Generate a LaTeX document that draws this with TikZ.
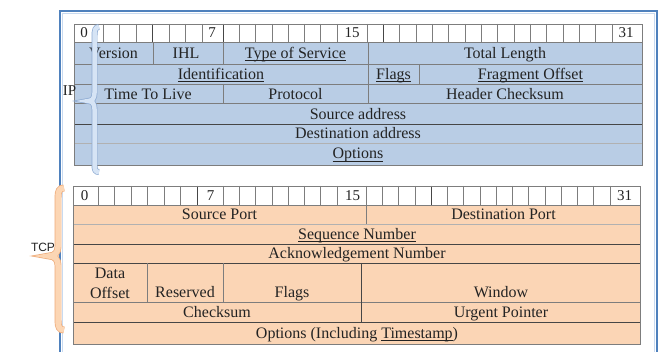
\documentclass[tikz,border=0pt]{standalone}
\usepackage{fontspec}
\setmainfont{Liberation Serif}
\newfontfamily\sansf{Liberation Sans}
\newcommand{\myul}[1]{\setbox0\hbox{#1}\rlap{\rule[-2.3pt]{\wd0}{0.75pt}}\box0}
\definecolor{ipfill}{RGB}{185,205,229}
\definecolor{tcpfill}{RGB}{251,213,181}
\definecolor{frameblue}{RGB}{79,129,189}
\definecolor{framelight}{RGB}{200,218,240}
\definecolor{gridline}{RGB}{125,125,125}
\definecolor{darkline}{RGB}{70,70,70}
\definecolor{txt}{RGB}{35,35,35}
\definecolor{ipbrfill}{RGB}{214,228,245}
\definecolor{ipbredge}{RGB}{140,170,210}
\definecolor{tcpbrfill}{RGB}{252,214,180}
\definecolor{tcpbredge}{RGB}{238,170,120}
\begin{document}
\begin{tikzpicture}[x=1pt,y=-1pt,
  fld/.style={anchor=base, inner sep=0pt, font=\fontsize{16}{20}\selectfont, text=txt},
  bitnum/.style={anchor=base, inner sep=0pt, font=\fontsize{15}{18}\selectfont, text=txt},
  thingrid/.style={draw=gridline, line width=0.6pt},
  darkgrid/.style={draw=darkline, line width=0.9pt},
  lightgrid/.style={draw=gridline!60, line width=0.5pt},
  ipbrace/.style={draw=ipbredge, double=ipbrfill, double distance=4.5pt, line width=0.7pt},
  tcpbrace/.style={draw=tcpbredge, double=tcpbrfill, double distance=5.5pt, line width=0.7pt}]
\useasboundingbox (0,0) rectangle (662,352);
\fill[white] (0,0) rectangle (662,352);
% frame
\draw[framelight, line width=1.2pt] (62.5,353) -- (62.5,13.5) -- (654.5,13.5) -- (654.5,353);
\draw[frameblue, line width=1.6pt] (60,353) -- (60,11) -- (657,11) -- (657,353);

% ===== IP table =====
\fill[white] (74.5,24) rectangle (642,42.3);
\fill[ipfill] (74.5,42.3) rectangle (642,165);
\foreach \x in {103,119.5,136,152.5,169,185.5,202,223,239.3,255.6,271.9,288.1,304.4,320.7,337,367,383.3,399.7,416,432.3,448.7,465,481.3,497.7,514,530.3,546.7,563,579.3,595.7,612}
  \draw[thingrid] (\x,24) -- (\x,42.3);
\foreach \x in {152.5,223,383.3}
  \draw[darkgrid] (\x,24) -- (\x,42.3);
\draw[thingrid] (74.5,42.3) -- (642,42.3);
\draw[thingrid] (74.5,64.3) -- (642,64.3);
\draw[thingrid] (74.5,84) -- (642,84);
\draw[thingrid] (74.5,103.3) -- (642,103.3);
\draw[darkgrid] (74.5,124) -- (642,124);
\draw[lightgrid] (74.5,143.3) -- (642,143.3);
\draw[thingrid] (153,42.3) -- (153,64.3);
\draw[thingrid] (223,42.3) -- (223,64.3);
\draw[thingrid] (223,84) -- (223,103.3);
\draw[thingrid] (368,42.3) -- (368,103.3);
\draw[thingrid] (419,64.3) -- (419,84);
\draw[thingrid] (74.5,24) rectangle (642,165);

\node[bitnum] (ipb0) at (84,38) {0};
\node[bitnum] (ipb7) at (212,38) {7};
\node[bitnum] (ipb15) at (352,38) {15};
\node[bitnum] (ipb31) at (626,38) {31};

\node[fld] (ver) at (113.5,58.6) {Version};
\node[fld] (ihl) at (186,58.6) {IHL};
\node[fld] (tos) at (295.5,58.6) {\myul{Type of Service}};
\node[fld] (tlen) at (505,58.6) {Total Length};
\node[fld] (ident) at (221,79.3) {\myul{Identification}};
\node[fld] (ipflags) at (393.5,79.3) {\myul{Flags}};
\node[fld] (frag) at (530.5,79.3) {\myul{Fragment Offset}};
\node[fld] (ttl) at (148,99.3) {Time To Live};
\node[fld] (proto) at (295.5,99.3) {Protocol};
\node[fld] (hcs) at (505,99.3) {Header Checksum};
\node[fld] (src) at (358,119.3) {Source address};
\node[fld] (dst) at (358,139) {Destination address};
\node[fld] (ipopt) at (358,159) {\myul{Options}};

% IP brace and label
\draw[ipbrace] (99,27) .. controls (95.5,27) and (94.5,30) .. (94.5,36) -- (94.5,93)
  .. controls (94.5,98) and (92.5,101) .. (88,101) .. controls (92.5,101) and (94.5,104) .. (94.5,109)
  -- (94.5,165) .. controls (94.5,170) and (95.5,172) .. (99,172);
\node[anchor=center, inner sep=0pt, font=\fontsize{15}{18}\selectfont, text=txt] (iplabel) at (69.5,90.5) {IP};

% ===== TCP table =====
\fill[white] (73,186) rectangle (640,205);
\fill[tcpfill] (73,205) rectangle (640,344);
\foreach \x in {98,114.5,131,147.5,164,180.5,197,223,239.3,255.6,271.9,288.1,304.4,320.7,337,366,382.3,398.5,414.8,431.1,447.3,463.6,479.9,496.1,512.4,528.7,544.9,561.2,577.5,593.7,610}
  \draw[thingrid] (\x,186) -- (\x,205);
\foreach \x in {197,431.1}
  \draw[darkgrid] (\x,186) -- (\x,205);
\draw[thingrid] (73,205) -- (640,205);
\draw[lightgrid] (73,224) -- (640,224);
\draw[darkgrid] (73,244) -- (640,244);
\draw[darkgrid] (73,263) -- (640,263);
\draw[thingrid] (73,302) -- (640,302);
\draw[darkgrid] (73,322) -- (640,322);
\draw[thingrid] (366,205) -- (366,224);
\draw[thingrid] (147,263) -- (147,302);
\draw[thingrid] (223,263) -- (223,302);
\draw[darkgrid] (361,263) -- (361,322);
\draw[thingrid] (73,186) rectangle (640,344);

\node[bitnum] (tb0) at (84.5,200.5) {0};
\node[bitnum] (tb7) at (210.5,200.5) {7};
\node[bitnum] (tb15) at (352.5,200.5) {15};
\node[bitnum] (tb31) at (624.5,200.5) {31};

\node[fld] (sport) at (219.5,220) {Source Port};
\node[fld] (dport) at (503.5,220) {Destination Port};
\node[fld] (seq) at (357,239.5) {\myul{Sequence Number}};
\node[fld] (ack) at (357,259) {Acknowledgement Number};
\node[anchor=center, inner sep=0pt, align=center, font=\fontsize{16}{20}\selectfont, text=txt] (doff) at (110,283) {Data\\Offset};
\node[fld] (resv) at (185,298) {Reserved};
\node[fld] (tflags) at (292,298) {Flags};
\node[fld] (win) at (501,298) {Window};
\node[fld] (csum) at (217,317.5) {Checksum};
\node[fld] (urg) at (501,317.5) {Urgent Pointer};
\node[fld] (topt) at (357,338.5) {Options (Including \myul{Timestamp})};

% TCP brace and label
\draw[tcpbrace] (64,188) .. controls (59.5,188) and (58,191) .. (58,198) -- (58,247)
  .. controls (58,252) and (55,256) .. (49,256) .. controls (55,256) and (58,260) .. (58,265)
  -- (58,320) .. controls (58,327) and (59.5,330) .. (64,330);
\node[anchor=center, inner sep=0pt, font=\sansf\fontsize{12}{14}\selectfont, text=txt] (tcplabel) at (43,247.5) {TCP};
\end{tikzpicture}
\end{document}
